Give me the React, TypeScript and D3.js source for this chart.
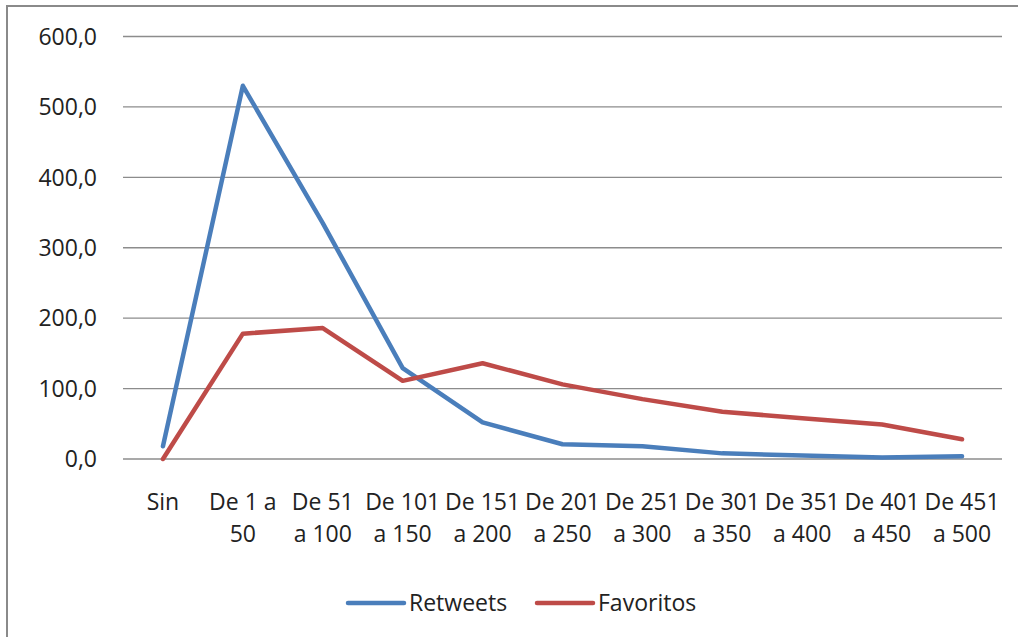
import React from "react";
import * as d3 from "d3";

const categories: string[][] = [
  ["Sin"],
  ["De 1 a", "50"],
  ["De 51", "a 100"],
  ["De 101", "a 150"],
  ["De 151", "a 200"],
  ["De 201", "a 250"],
  ["De 251", "a 300"],
  ["De 301", "a 350"],
  ["De 351", "a 400"],
  ["De 401", "a 450"],
  ["De 451", "a 500"],
];
const retweets: number[] = [18, 530, 335, 129, 52, 21, 18, 8, 5, 2, 4];
const favoritos: number[] = [0, 178, 186, 111, 136, 106, 85, 67, 58, 49, 28];
const yTicks: number[] = [0, 100, 200, 300, 400, 500, 600];
const seriesNames: string[] = ["Retweets", "Favoritos"];

const W = 1018;
const H = 637;
const FONT = "'Open Sans', sans-serif";
const BLUE = "#4a7ebb";
const RED = "#be4b48";

export default function App() {
  const keys = categories.map((c) => c.join(" "));
  const x = d3.scalePoint<string>().domain(keys).range([123, 1002]).padding(0.5);
  const y = d3.scaleLinear().domain([0, 600]).range([459, 36.5]);
  const line = d3
    .line<number>()
    .x((_, i) => x(keys[i]) as number)
    .y((d) => y(d));
  const fmt = (v: number) => v.toFixed(1).replace(".", ",");

  const series = [
    { name: seriesNames[0], values: retweets, color: BLUE },
    { name: seriesNames[1], values: favoritos, color: RED },
  ];
  const legendX = [348, 537];

  return (
    <svg
      width={W}
      height={H}
      style={{ position: "absolute", left: 0, top: 0, background: "#fff" }}
    >
      <rect x={0} y={0} width={W} height={H} fill="#fff" />
      <rect x={7} y={6} width={W + 20} height={H + 20} fill="none" stroke="#8a8a8a" strokeWidth={2} />
      {yTicks.map((t) => (
        <g key={t}>
          <line x1={123} x2={1002} y1={y(t)} y2={y(t)} stroke="#8c8c8c" strokeWidth={1.3} />
          <text
            x={97}
            y={y(t)}
            dy="0.36em"
            textAnchor="end"
            fontFamily={FONT}
            fontSize={23}
            fill="#222"
          >
            {fmt(t)}
          </text>
        </g>
      ))}
      {categories.map((c, i) => (
        <text
          key={i}
          x={x(keys[i]) as number}
          y={510}
          textAnchor="middle"
          fontFamily={FONT}
          fontSize={23}
          fill="#222"
        >
          {c.map((l, j) => (
            <tspan key={j} x={x(keys[i]) as number} y={510 + j * 32}>
              {l}
            </tspan>
          ))}
        </text>
      ))}
      {series.map((s) => (
        <path
          key={s.name}
          d={line(s.values) || ""}
          fill="none"
          stroke={s.color}
          strokeWidth={4.5}
          strokeLinejoin="round"
          strokeLinecap="round"
        />
      ))}
      {series.map((s, i) => (
        <g key={s.name}>
          <line
            x1={legendX[i]}
            x2={legendX[i] + 56}
            y1={603}
            y2={603}
            stroke={s.color}
            strokeWidth={4.5}
            strokeLinecap="round"
          />
          <text
            x={legendX[i] + 61}
            y={611}
            fontFamily={FONT}
            fontSize={23}
            fill="#222"
          >
            {s.name}
          </text>
        </g>
      ))}
    </svg>
  );
}
